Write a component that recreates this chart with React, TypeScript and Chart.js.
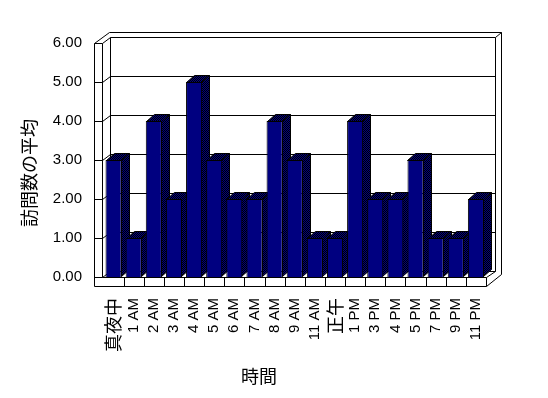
import React, { useEffect, useRef } from 'react';
import { Chart, registerables } from 'chart.js';

Chart.register(...registerables);

const categories = ['真夜中', '1 AM', '2 AM', '3 AM', '4 AM', '5 AM', '6 AM', '7 AM', '8 AM', '9 AM', '11 AM', '正午', '1 PM', '3 PM', '4 PM', '5 PM', '7 PM', '9 PM', '11 PM'];
const visitAverages = [3, 1, 4, 2, 5, 3, 2, 2, 4, 3, 1, 1, 4, 2, 2, 3, 1, 1, 2];
const yTickLabels = ['0.00', '1.00', '2.00', '3.00', '4.00', '5.00', '6.00'];
const xTitle = '時間';
const yTitle = '訪問数の平均';

const LATIN = '"Liberation Sans", Arial, "Noto Sans CJK JP", sans-serif';
const CJK = '"Noto Sans CJK JP", "Liberation Sans", sans-serif';

const NAVY = '#000080';

function makePattern(ctx: CanvasRenderingContext2D) {
  const c = document.createElement('canvas');
  c.width = 2;
  c.height = 2;
  const p = c.getContext('2d')!;
  p.fillStyle = '#000';
  p.fillRect(0, 0, 2, 2);
  p.fillStyle = NAVY;
  p.fillRect(1, 0, 1, 1);
  p.fillRect(0, 1, 1, 1);
  return ctx.createPattern(c, 'repeat')!;
}

const walls3d = {
  id: 'walls3d',
  beforeDatasetsDraw(chart: any) {
    const { ctx, chartArea: a, scales } = chart;
    const ys = scales.y;
    const F = (v: number) => Math.round(ys.getPixelForValue(v)) + 0.5;
    const DY = -6;
    const fl = Math.floor(a.left) - 9 + 0.5;
    const wi = fl + 8;
    const bl = wi + 8;
    const fr = Math.round(a.right) + 0.5;
    const br = fr + 9;
    const bro = br + 6;
    const yTop = F(6);
    const y0 = F(0);
    const fb = y0 + 9;
    const outerTop = yTop - 11;

    ctx.save();
    ctx.strokeStyle = '#000';
    ctx.lineWidth = 1;
    ctx.beginPath();
    // left wall front face
    ctx.moveTo(fl, yTop); ctx.lineTo(fl, fb);
    ctx.moveTo(wi, yTop); ctx.lineTo(wi, y0);
    // ticks and back-wall gridlines
    for (let v = 0; v <= 6; v++) {
      const yy = F(v);
      ctx.moveTo(fl, yy); ctx.lineTo(wi, yy); ctx.lineTo(bl, yy + DY); ctx.lineTo(br, yy + DY);
    }
    // back wall edges
    ctx.moveTo(bl, yTop + DY); ctx.lineTo(bl, y0 + DY);
    ctx.moveTo(br, yTop + DY); ctx.lineTo(br, y0 + DY); ctx.lineTo(fr, y0);
    ctx.moveTo(br, yTop + DY); ctx.lineTo(bro, outerTop);
    // outer outline
    ctx.moveTo(fl, yTop); ctx.lineTo(fl + 15, outerTop); ctx.lineTo(bro, outerTop);
    ctx.lineTo(bro, fb - 12); ctx.lineTo(fr, fb);
    // floor front
    ctx.moveTo(fl, fb); ctx.lineTo(fr, fb);
    ctx.moveTo(wi, y0); ctx.lineTo(fr, y0); ctx.lineTo(fr, fb);
    const n = categories.length;
    const cw = (a.right - a.left) / n;
    for (let i = 1; i < n; i++) {
      const xx = Math.round(a.left + i * cw) + 0.5;
      ctx.moveTo(xx, y0); ctx.lineTo(xx, fb);
    }
    ctx.stroke();

    // bar top and side faces
    const pat = makePattern(ctx);
    const BX = 8, BY = -7;
    const meta = chart.getDatasetMeta(0);
    meta.data.forEach((bar: any) => {
      const { x, y, base, width } = bar.getProps(['x', 'y', 'base', 'width'], true);
      const l = Math.round(x - width / 2) + 0.5;
      const r = Math.round(x + width / 2) - 0.5;
      const t = Math.round(y) + 0.5;
      const b = Math.round(base) - 0.5;
      ctx.fillStyle = pat;
      ctx.beginPath();
      ctx.moveTo(l, t); ctx.lineTo(l + BX, t + BY); ctx.lineTo(r + BX, t + BY); ctx.lineTo(r, t); ctx.closePath();
      ctx.fill(); ctx.stroke();
      ctx.beginPath();
      ctx.moveTo(r, t); ctx.lineTo(r + BX, t + BY); ctx.lineTo(r + BX, b + BY); ctx.lineTo(r, b); ctx.closePath();
      ctx.fill(); ctx.stroke();
    });
    ctx.restore();
  },
  afterDraw(chart: any) {
    const { ctx } = chart;
    ctx.save();
    ctx.fillStyle = '#000';
    ctx.font = '18px ' + CJK;
    ctx.textAlign = 'center';
    ctx.textBaseline = 'middle';
    ctx.fillText(xTitle, 259, 376);
    ctx.translate(29, 173);
    ctx.rotate(-Math.PI / 2);
    ctx.fillText(yTitle, 0, 0);
    ctx.restore();
  },
};

const hasCJK = (s: string) => /[\u3000-\u9fff]/.test(s);

export default function App() {
  const ref = useRef<HTMLCanvasElement>(null);
  useEffect(() => {
    const chart = new Chart(ref.current!, {
      type: 'bar',
      data: {
        labels: categories,
        datasets: [
          {
            data: visitAverages,
            backgroundColor: NAVY,
            borderColor: '#000',
            borderWidth: 1,
            barPercentage: 0.8,
            categoryPercentage: 1,
          },
        ],
      },
      options: {
        responsive: false,
        animation: false,
        layout: { padding: { top: 43, right: 62, left: 0, bottom: 0 } },
        plugins: { legend: { display: false }, tooltip: { enabled: false } },
        scales: {
          x: {
            grid: { display: false, drawTicks: false },
            border: { display: false },
            ticks: {
              autoSkip: false,
              maxRotation: 90,
              minRotation: 90,
              padding: 21,
              color: '#000',
              font: (c: any) => {
                const lbl = categories[c.index] || '';
                return hasCJK(lbl) ? { family: CJK, size: 18 } : { family: LATIN, size: 15 };
              },
            },
            afterFit: (s: any) => { s.height = 121; },
          },
          y: {
            min: 0,
            max: 6,
            grid: { display: false, drawTicks: false },
            border: { display: false },
            ticks: {
              stepSize: 1,
              padding: 21.5,
              color: '#000',
              font: { family: LATIN, size: 15 },
              callback: (_v: any, i: number) => yTickLabels[i],
            },
            afterFit: (s: any) => { s.width = 103.5; },
          },
        },
      },
      plugins: [walls3d],
    } as any);
    return () => chart.destroy();
  }, []);
  return (
    <div style={{ position: 'fixed', left: 0, top: 0, width: 548, height: 398, background: '#fff' }}>
      <canvas ref={ref} width={548} height={398} style={{ display: 'block', width: 548, height: 398 }} />
    </div>
  );
}
